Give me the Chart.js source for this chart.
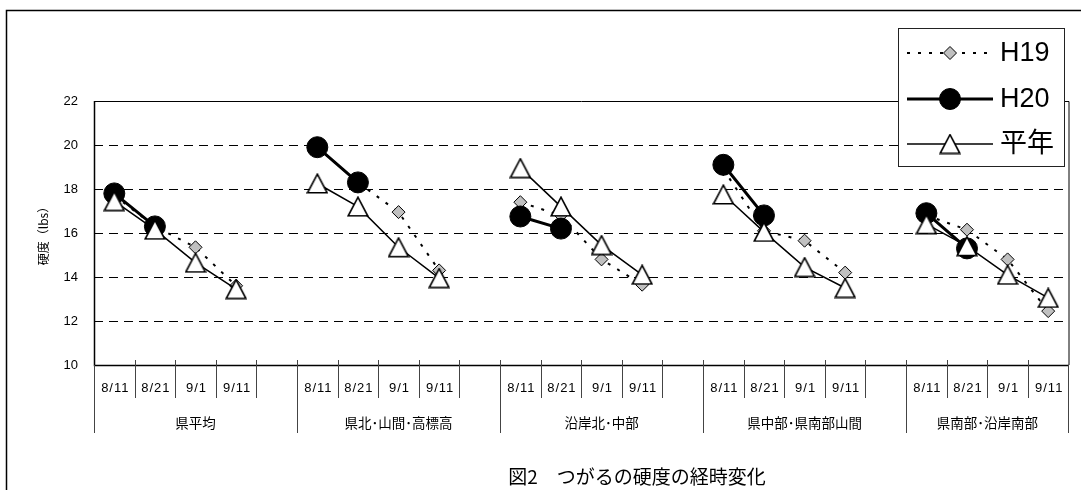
<!DOCTYPE html>
<html>
<head>
<meta charset="utf-8">
<script src="https://cdn.jsdelivr.net/npm/chart.js@4/dist/chart.umd.min.js"></script>
<style>
html,body{margin:0;padding:0;background:#fff}
</style>
</head>
<body>
<canvas id="c" width="1081" height="490"></canvas>
<script>
// data
var groups = ['県平均', '県北･山間･高標高', '沿岸北･中部', '県中部･県南部山間', '県南部･沿岸南部']
var dates = ['8/11', '8/21', '9/1', '9/11']
var h19 = [[17.7, 16.3, 15.35, 13.6], [19.9, 18.3, 16.95, 14.3], [17.4, 16.8, 14.8, 13.65], [18.9, 16.1, 15.65, 14.2], [16.8, 16.15, 14.8, 12.45]]
var h20 = [[17.8, 16.3, null, null], [19.9, 18.3, null, null], [16.75, 16.2, null, null], [19.1, 16.8, null, null], [16.9, 15.3, null, null]]
var heinen = [[17.45, 16.15, 14.65, 13.45], [18.25, 17.2, 15.35, 13.95], [18.95, 17.2, 15.45, 14.1], [17.75, 16.05, 14.45, 13.5], [16.4, 15.4, 14.1, 13.05]]
var yTicks = [10, 12, 14, 16, 18, 20, 22]
var seriesNames = ['H19', 'H20', '平年']
var chartTitle = '図2　つがるの硬度の経時変化'
var yTitle = '硬度（lbs）'

var CJK = '"Noto Sans CJK JP"'
var LAT = '"Liberation Sans", Arial, ' + CJK

// flatten groups into category slots (blank slot between groups)
var labels = [], d19 = [], d20 = [], dhei = [], groupStart = []
for (var g = 0; g < groups.length; g++) {
    groupStart.push(labels.length)
    for (var k = 0; k < dates.length; k++) {
        labels.push(dates[k])
        d19.push(h19[g][k])
        d20.push(h20[g][k])
        dhei.push(heinen[g][k])
    }
    if (g < groups.length - 1) {
        labels.push('')
        d19.push(null); d20.push(null); dhei.push(null)
    }
}
groupStart.push(labels.length)

// white triangle marker, centred in its box like the original
function makeTri(w, h) {
    var c = document.createElement('canvas')
    c.width = w; c.height = h
    var t = c.getContext('2d')
    t.beginPath()
    t.moveTo(w / 2, 1.2)
    t.lineTo(w - 1.2, h - 1.2)
    t.lineTo(1.2, h - 1.2)
    t.closePath()
    t.fillStyle = '#fff'
    t.fill()
    t.lineWidth = 1.6
    t.strokeStyle = '#000'
    t.stroke()
    return c
}
var tri = makeTri(22, 21)

var deco = {
    id: 'deco',
    beforeDatasetsDraw(chart) {
        var ctx = chart.ctx, a = chart.chartArea
        ctx.save()
        ctx.strokeStyle = '#000'
        ctx.lineWidth = 1
        ctx.beginPath()
        ctx.moveTo(a.left, a.top + 0.5); ctx.lineTo(a.right + 0.5, a.top + 0.5)
        ctx.lineTo(a.right + 0.5, a.bottom)
        ctx.stroke()
        ctx.lineWidth = 1.5
        ctx.beginPath()
        ctx.moveTo(a.left + 0.5, a.top); ctx.lineTo(a.left + 0.5, a.bottom + 0.5)
        ctx.lineTo(a.right + 0.5, a.bottom + 0.5)
        ctx.stroke()
        ctx.restore()
    },
    afterDraw(chart) {
        var ctx = chart.ctx, a = chart.chartArea, xs = chart.scales.x
        var slot = (a.right - a.left) / labels.length
        ctx.save()

        // category ticks
        ctx.strokeStyle = '#444'
        ctx.lineWidth = 1
        for (var i = 0; i <= labels.length; i++) {
            var bx = i < labels.length ? xs.getPixelForValue(i) - slot / 2 : xs.getPixelForValue(labels.length - 1) + slot / 2
            bx = Math.round(bx) + 0.5
            var isGroup = groupStart.indexOf(i) >= 0
            var y0 = (i == 0 || i == labels.length) ? a.bottom : a.bottom - 5
            var y1 = isGroup ? a.bottom + 68 : a.bottom + 33
            ctx.beginPath(); ctx.moveTo(bx, y0); ctx.lineTo(bx, y1); ctx.stroke()
        }

        // date labels
        ctx.fillStyle = '#000'
        ctx.textAlign = 'center'
        ctx.textBaseline = 'middle'
        ctx.font = '13px ' + LAT
        ctx.letterSpacing = '1px'
        for (var i = 0; i < labels.length; i++) {
            if (labels[i]) ctx.fillText(labels[i], xs.getPixelForValue(i) + 1, a.bottom + 23)
        }
        ctx.letterSpacing = '0px'

        // group labels
        ctx.font = '13.5px ' + CJK
        for (var g = 0; g < groups.length; g++) {
            var l = xs.getPixelForValue(groupStart[g]) - slot / 2
            var r = xs.getPixelForValue(groupStart[g + 1] - 1) + slot / 2
            ctx.fillText(groups[g], (l + r) / 2, a.bottom + 58)
        }

        // chart title
        ctx.font = '19px ' + CJK
        ctx.fillText(chartTitle, 637, 477)

        // outer frame
        ctx.strokeStyle = '#000'
        ctx.lineWidth = 1.5
        ctx.beginPath()
        ctx.moveTo(6.5, 490); ctx.lineTo(6.5, 10.5); ctx.lineTo(1081, 10.5)
        ctx.stroke()

        // legend box
        var bx0 = 898, by0 = 28, bw = 166, bh = 138
        ctx.fillStyle = '#fff'
        ctx.fillRect(bx0, by0, bw, bh)
        ctx.strokeStyle = '#222'
        ctx.lineWidth = 1
        ctx.strokeRect(bx0 + 0.5, by0 + 0.5, bw, bh)
        var rows = [53, 99, 144]
        var ds = chart.data.datasets
        for (var s = 0; s < ds.length; s++) {
            var y = rows[s]
            ctx.save()
            ctx.strokeStyle = '#000'
            ctx.lineWidth = ds[s].borderWidth
            ctx.setLineDash(ds[s].borderDash || [])
            ctx.beginPath(); ctx.moveTo(907, y); ctx.lineTo(993, y); ctx.stroke()
            ctx.restore()
            if (ds[s].pointStyle === tri) {
                ctx.drawImage(tri, 950 - tri.width / 2, y - tri.height / 2)
            } else {
                ctx.save()
                ctx.fillStyle = ds[s].pointBackgroundColor
                ctx.strokeStyle = ds[s].pointBorderColor
                ctx.lineWidth = ds[s].pointBorderWidth
                Chart.helpers.drawPoint(ctx, {
                    pointStyle: ds[s].pointStyle,
                    radius: ds[s].pointRadius,
                    borderWidth: ds[s].pointBorderWidth,
                    rotation: 0
                }, 950, y)
                ctx.restore()
            }
            ctx.fillStyle = '#000'
            ctx.textAlign = 'left'
            ctx.textBaseline = 'middle'
            ctx.font = '27px ' + LAT
            ctx.fillText(seriesNames[s], 1000, y + 1)
        }
        ctx.restore()
    }
}

var chart = new Chart(document.getElementById('c').getContext('2d'), {
    type: 'line',
    plugins: [deco],
    data: {
        labels: labels,
        datasets: [{
            label: seriesNames[0],
            data: d19,
            order: 3,
            borderColor: '#000',
            borderWidth: 2,
            borderDash: [3, 8],
            pointStyle: 'rectRot',
            pointRadius: 6.5,
            pointBackgroundColor: '#c0c0c0',
            pointBorderColor: '#000',
            pointBorderWidth: 1,
            spanGaps: false,
            tension: 0
        }, {
            label: seriesNames[1],
            data: d20,
            order: 2,
            borderColor: '#000',
            borderWidth: 3,
            pointStyle: 'circle',
            pointRadius: 10.5,
            pointBackgroundColor: '#000',
            pointBorderColor: '#000',
            pointBorderWidth: 1,
            spanGaps: false,
            tension: 0
        }, {
            label: seriesNames[2],
            data: dhei,
            order: 1,
            borderColor: '#000',
            borderWidth: 1.5,
            pointStyle: tri,
            pointRadius: 11,
            spanGaps: false,
            tension: 0
        }]
    },
    options: {
        responsive: false,
        animation: false,
        events: [],
        layout: { padding: { left: 35, top: 101, right: 8, bottom: 0 } },
        plugins: {
            legend: { display: false },
            tooltip: { enabled: false }
        },
        scales: {
            x: {
                offset: true,
                grid: { display: false, drawTicks: false },
                border: { display: false },
                ticks: { display: false },
                afterFit: (s) => { s.height = 125 }
            },
            y: {
                min: 10,
                max: 22,
                afterBuildTicks: (s) => { s.ticks = yTicks.map(v => ({ value: v })) },
                afterFit: (s) => { s.width = 59 },
                grid: {
                    drawTicks: false,
                    lineWidth: 1,
                    color: (c) => (c.tick && (c.tick.value == 10 || c.tick.value == 22)) ? 'rgba(0,0,0,0)' : '#000'
                },
                border: { display: false, dash: [9, 6] },
                ticks: {
                    color: '#000',
                    padding: 16,
                    font: { family: LAT, size: 13 }
                },
                title: {
                    display: true,
                    text: yTitle,
                    color: '#000',
                    padding: { top: 1, bottom: 0 },
                    font: { family: CJK, size: 12 }
                }
            }
        }
    }
})
</script>
</body>
</html>
